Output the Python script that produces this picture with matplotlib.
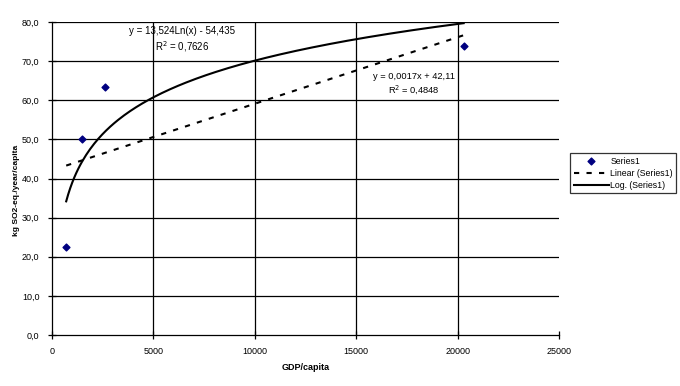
import numpy as np
from matplotlib import pyplot as plt

plt.rcParams['font.family'] = ['Liberation Sans', 'DejaVu Sans']
plt.rcParams['font.size'] = 7

# data
gdp = [700, 1480, 2610, 20300]
so2 = [22.4, 50.0, 63.5, 73.8]

# trendline coefficients as printed on the chart
lin_slope, lin_icpt = 0.0017, 42.11
log_coef, log_icpt = 13.524, -54.435
lin_text = "y = 0,0017x + 42,11\nR$^2$ = 0,4848"
log_text = "y = 13,524Ln(x) - 54,435\nR$^2$ = 0,7626"

x_ticks = [0, 5000, 10000, 15000, 20000, 25000]
y_ticks = [0, 10, 20, 30, 40, 50, 60, 70, 80]

fig = plt.figure(figsize=(6.8, 3.86), dpi=100)
ax = fig.add_axes([52/680, 1 - 335/386, (559 - 52)/680, (335 - 22)/386])

# gridlines like excel: no line at the right edge
for yv in y_ticks[1:]:
    ax.axhline(yv, color='black', lw=0.9, zorder=1)
for xv in x_ticks[1:-1]:
    ax.axvline(xv, color='black', lw=0.9, zorder=1)

xs = np.linspace(min(gdp), max(gdp), 200)
ax.scatter(gdp, so2, marker='D', s=12, color='#000080', zorder=4, label='Series1')
ax.plot(xs, lin_slope*xs + lin_icpt, color='black', lw=1.5, ls=(0, (2.5, 3.5)),
        zorder=3, label='Linear (Series1)')
ax.plot(xs, log_coef*np.log(xs) + log_icpt, color='black', lw=1.5, zorder=3,
        label='Log. (Series1)')

ax.set_xlim(0, 25000)
ax.set_ylim(0, 80)
ax.set_xticks(x_ticks)
ax.set_xticklabels([str(v) for v in x_ticks])
ax.set_yticks(y_ticks)
ax.set_yticklabels([("%.1f" % v).replace('.', ',') for v in y_ticks])
ax.tick_params(direction='inout', length=6, width=0.9, pad=6, labelcolor='black',
               labelsize=6.5)
for side in ['top', 'right']:
    ax.spines[side].set_visible(False)
for side in ['left', 'bottom']:
    ax.spines[side].set_linewidth(0.9)

ax.set_xlabel("GDP/capita", fontweight='bold', fontsize=6.5, labelpad=5)
fig.text(17/680, 1 - 190/386, "kg SO2-eq./year/capita", rotation=90,
         fontweight='bold', fontsize=6, ha='center', va='center')

# equation labels placed in figure pixel space (y measured from top)
fig.text(182/680, 1 - 40/386, log_text, ha='center', va='center', fontsize=7,
         linespacing=1.3, multialignment='center')
fig.text(414/680, 1 - 84/386, lin_text, ha='center', va='center', fontsize=6.7,
         linespacing=1.3, multialignment='center')

leg = fig.legend(loc='upper left', bbox_to_anchor=(570/680, 1 - 153/386),
                 frameon=True, fancybox=False, fontsize=6.3, handlelength=4.0,
                 borderpad=0.4, labelspacing=0.35, handletextpad=0.2,
                 borderaxespad=0)
leg.get_frame().set_edgecolor('black')
leg.get_frame().set_linewidth(0.9)

fig.savefig('out.png', dpi=100)
